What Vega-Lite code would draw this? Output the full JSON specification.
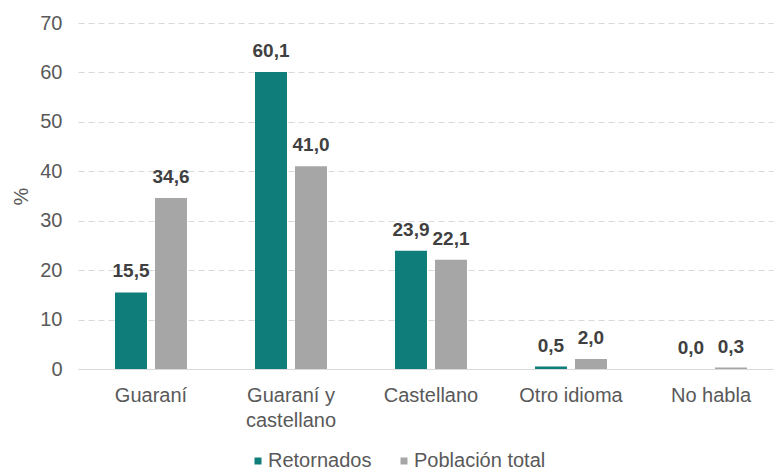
{
  "$schema": "https://vega.github.io/schema/vega-lite/v6.json",
  "width": 695,
  "height": 346,
  "autosize": "none",
  "padding": {"left": 78, "top": 23, "right": 3, "bottom": 103},
  "background": "white",
  "data": {
    "values": [
      {"cat": "Guaraní", "serie": "Retornados", "v": 15.5},
      {"cat": "Guaraní", "serie": "Población total", "v": 34.6},
      {"cat": "Guaraní y castellano", "serie": "Retornados", "v": 60.1},
      {"cat": "Guaraní y castellano", "serie": "Población total", "v": 41.0},
      {"cat": "Castellano", "serie": "Retornados", "v": 23.9},
      {"cat": "Castellano", "serie": "Población total", "v": 22.1},
      {"cat": "Otro idioma", "serie": "Retornados", "v": 0.5},
      {"cat": "Otro idioma", "serie": "Población total", "v": 2.0},
      {"cat": "No habla", "serie": "Retornados", "v": 0.0},
      {"cat": "No habla", "serie": "Población total", "v": 0.3}
    ]
  },
  "encoding": {
    "x": {
      "field": "cat", "type": "nominal", "sort": null,
      "scale": {"paddingInner": 0.4857, "paddingOuter": 0.225, "align": 0.587},
      "axis": {
        "title": null, "labelAngle": 0, "ticks": false,
        "domainColor": "#d9d9d9", "labelColor": "#595959", "labelFontSize": 20,
        "labelFont": "Liberation Sans", "labelPadding": 16, "labelLineHeight": 25,
        "labelExpr": "datum.value == 'Guaraní y castellano' ? ['Guaraní y', 'castellano'] : datum.value"
      }
    },
    "xOffset": {"field": "serie", "type": "nominal", "sort": ["Retornados", "Población total"], "scale": {"paddingInner": 0.2, "paddingOuter": 0}},
    "y": {
      "field": "v", "type": "quantitative",
      "scale": {"domain": [0, 70]},
      "axis": {
        "title": "%", "titleFontWeight": "normal", "titleColor": "#595959", "titleFontSize": 20,
        "titleFont": "Liberation Sans", "titlePadding": 8,
        "values": [0, 10, 20, 30, 40, 50, 60, 70], "ticks": false, "domain": false,
        "labelColor": "#595959", "labelFontSize": 20, "labelFont": "Liberation Sans", "labelPadding": 16,
        "gridColor": "#d9d9d9", "gridDash": [6, 4], "gridWidth": 1
      }
    }
  },
  "layer": [
    {
      "mark": {"type": "bar"},
      "encoding": {
        "color": {
          "field": "serie", "type": "nominal", "sort": ["Retornados", "Población total"],
          "scale": {"domain": ["Retornados", "Población total"], "range": ["#0f7e7a", "#a6a6a6"]},
          "legend": {
            "title": null, "orient": "none", "direction": "horizontal",
            "legendX": 170, "legendY": 428,
            "symbolType": "square", "symbolSize": 49, "labelFontSize": 20, "labelColor": "#595959",
            "labelFont": "Liberation Sans", "columnPadding": 22, "labelOffset": 0
          }
        }
      }
    },
    {
      "mark": {"type": "text", "baseline": "bottom", "dy": -11, "fontWeight": "bold", "fontSize": 19, "color": "#404040", "font": "Liberation Sans"},
      "encoding": {
        "text": {"field": "v", "type": "quantitative", "format": ".1f"}
      }
    }
  ],
  "config": {
    "view": {"stroke": null},
    "locale": {"number": {"decimal": ",", "thousands": ".", "grouping": [3], "currency": ["", " €"]}}
  }
}
